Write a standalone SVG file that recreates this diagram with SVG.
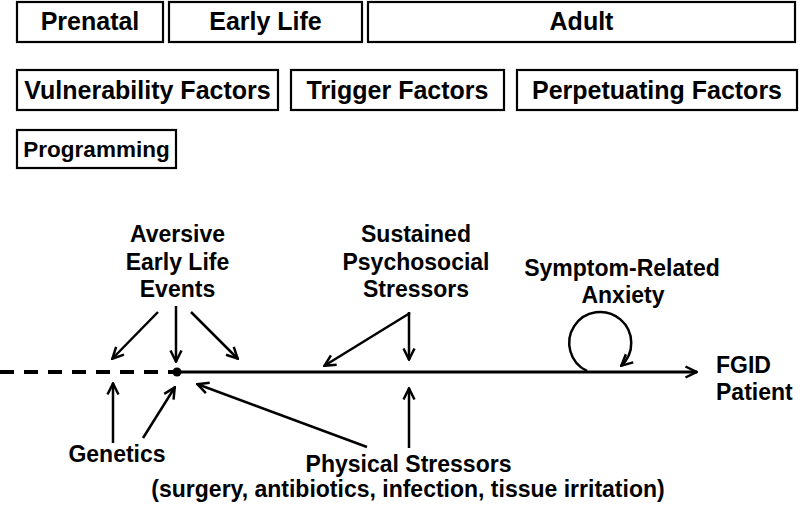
<svg xmlns="http://www.w3.org/2000/svg" width="800" height="507" viewBox="0 0 800 507">
<style>
.box{fill:#fff;stroke:#000;stroke-width:2.2}
.bt{font-family:"Liberation Sans",Arial,Helvetica,sans-serif;font-weight:bold;font-size:25px;text-anchor:middle;fill:#000}
.lt{font-family:"Liberation Sans",Arial,Helvetica,sans-serif;font-weight:bold;font-size:23px;text-anchor:middle;fill:#000}
.ar{fill:none;stroke:#000;stroke-width:2.5;marker-end:url(#ah)}
</style>
<defs>
<marker id="ah" viewBox="0 0 14 14" refX="13" refY="7" markerWidth="14" markerHeight="14" markerUnits="userSpaceOnUse" orient="auto">
<path d="M1.5,1.5 L12.5,7 L1.5,12.5" fill="none" stroke="#000" stroke-width="2.5"/>
</marker>
</defs>
<rect width="800" height="507" fill="#fff"/>
<g id="prenatal"><rect class="box" x="17" y="2" width="146" height="40"/><text class="bt" x="90" y="30">Prenatal</text></g>
<g id="early-life"><rect class="box" x="169" y="2" width="193" height="40"/><text class="bt" x="265.5" y="30">Early Life</text></g>
<g id="adult"><rect class="box" x="368" y="2" width="427" height="40"/><text class="bt" x="581.5" y="30">Adult</text></g>
<g id="vulnerability"><rect class="box" x="17" y="70" width="261" height="40"/><text class="bt" x="147.5" y="99">Vulnerability Factors</text></g>
<g id="trigger"><rect class="box" x="291" y="70" width="213" height="40"/><text class="bt" x="397.5" y="99">Trigger Factors</text></g>
<g id="perpetuating"><rect class="box" x="517" y="70" width="280" height="40"/><text class="bt" x="657" y="99">Perpetuating Factors</text></g>
<g id="programming"><rect class="box" x="17" y="130" width="159" height="38"/><text class="bt" x="96.5" y="157" style="font-size:22.5px">Programming</text></g>

<g id="aversive"><text class="lt" x="177.5" y="242">Aversive</text><text class="lt" x="177.5" y="269.5">Early Life</text><text class="lt" x="177.5" y="297">Events</text></g>
<g id="sustained"><text class="lt" x="416" y="242">Sustained</text><text class="lt" x="416" y="269.5">Psychosocial</text><text class="lt" x="416" y="297">Stressors</text></g>
<g id="anxiety"><text class="lt" x="622" y="276">Symptom-Related</text><text class="lt" x="623" y="303">Anxiety</text></g>
<g id="fgid"><text class="lt" x="716" y="373" style="text-anchor:start">FGID</text><text class="lt" x="716" y="400" style="text-anchor:start">Patient</text></g>
<g id="genetics"><text class="lt" x="117" y="462">Genetics</text></g>
<g id="physical"><text class="lt" x="408.5" y="472">Physical Stressors</text><text class="lt" x="408" y="497">(surgery, antibiotics, infection, tissue irritation)</text></g>

<g id="connectors">
<line x1="0" y1="372" x2="173" y2="372" stroke="#000" stroke-width="4" stroke-dasharray="14,10"/>
<circle cx="177" cy="372" r="4.5" fill="#000"/>
<line x1="177" y1="372" x2="697" y2="372" stroke="#000" stroke-width="3" marker-end="url(#ah)"/>
<line class="ar" x1="158" y1="312" x2="112" y2="359"/>
<line class="ar" x1="176" y1="306" x2="176" y2="362"/>
<line class="ar" x1="191" y1="312" x2="238" y2="359"/>
<line class="ar" x1="410" y1="313" x2="324" y2="366"/>
<line class="ar" x1="409" y1="312" x2="409" y2="360"/>
<line class="ar" x1="409" y1="448" x2="409" y2="388"/>
<line class="ar" x1="367" y1="447" x2="197" y2="384"/>
<line class="ar" x1="113" y1="443" x2="113" y2="383"/>
<line class="ar" x1="143" y1="438" x2="175" y2="387"/>
<path class="ar" d="M587,371 A31,31 0 1 1 621,366"/>
</g>
</svg>
